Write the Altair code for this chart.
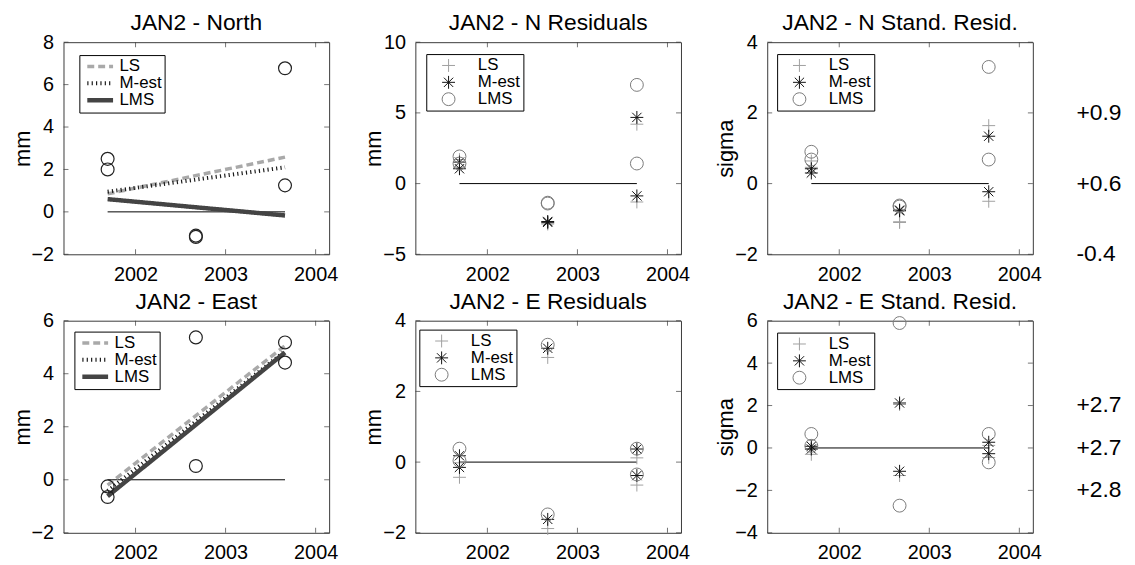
import altair as alt
import pandas as pd

FONT = "Liberation Sans"

# ---------------- data ----------------
methods = ["LS", "M-est", "LMS"]
t_obs = [2001.69, 2001.69, 2002.67, 2002.67, 2003.66, 2003.66]
t_fit = [2001.69, 2003.66]
x_domain = [2001.2, 2004.15]
x_ticks = [2002, 2003, 2004]

north_obs = [2.5, 2.0, -1.12, -1.18, 6.77, 1.25]
north_ls = [0.85, 2.58]
north_mest = [0.95, 2.1]
north_lms = [0.6, -0.17]

east_obs = [-0.25, -0.65, 5.37, 0.52, 5.18, 4.42]
east_ls = [-0.2, 5.06]
east_mest = [-0.42, 4.85]
east_lms = [-0.62, 4.8]

n_res_ls = [1.7, 1.15, -2.8, -2.86, 4.2, -1.3]
n_res_mest = [1.52, 1.05, -2.68, -2.74, 4.68, -0.87]
n_res_lms = [1.92, 1.42, -1.35, -1.41, 6.98, 1.42]

n_std_ls = [0.64, 0.46, -1.08, -1.1, 1.64, -0.5]
n_std_mest = [0.42, 0.3, -0.75, -0.77, 1.34, -0.23]
n_std_lms = [0.9, 0.68, -0.62, -0.65, 3.3, 0.68]

e_res_ls = [-0.02, -0.43, 2.96, -1.88, 0.12, -0.65]
e_res_mest = [0.18, -0.15, 3.22, -1.62, 0.37, -0.38]
e_res_lms = [0.38, 0.04, 3.32, -1.48, 0.38, -0.35]

e_std_ls = [-0.05, -0.3, 2.05, -1.3, 0.12, -0.45]
e_std_mest = [0.08, -0.05, 2.12, -1.1, 0.27, -0.27]
e_std_lms = [0.66, 0.1, 5.89, -2.72, 0.66, -0.68]

n_annot = ["+0.9", "+0.6", "-0.4"]
e_annot = ["+2.7", "+2.7", "+2.8"]
annot_pos = [2, 0, -2]

# ---------------- style ----------------
W, H = 268, 214
LINE_SYM = "M-1,0H4.2"
PLUS = "M-1,0H1M0,-1V1"
STAR = "M-1,0H1M0,-1V1M-0.72,-0.72L0.72,0.72M-0.72,0.72L0.72,-0.72"
FRAME = "#3a3a3a"


def xe():
    return alt.X("t:Q", scale=alt.Scale(domain=x_domain, nice=False, zero=False),
                 axis=alt.Axis(values=x_ticks, format="d", title=None))


def ye(ydom, yticks, ytitle):
    return alt.Y("v:Q", scale=alt.Scale(domain=ydom, nice=False, zero=False),
                 axis=alt.Axis(values=yticks, format="d", title=ytitle))


def frame_layers(ydom, yticks, ytitle):
    X, Y = xe(), ye(ydom, yticks, ytitle)
    zero = alt.Chart(pd.DataFrame({"t": t_fit, "v": [0, 0]})).mark_line(
        color="black", strokeWidth=1).encode(x=X, y=Y)
    bt = alt.Chart(pd.DataFrame({"t": x_ticks, "v": [ydom[0]] * len(x_ticks)})).mark_tick(
        orient="vertical", size=5, thickness=1, color=FRAME, yOffset=-2.5).encode(x=X, y=Y)
    tt = alt.Chart(pd.DataFrame({"t": x_ticks, "v": [ydom[1]] * len(x_ticks)})).mark_tick(
        orient="vertical", size=5, thickness=1, color=FRAME, yOffset=2.5).encode(x=X, y=Y)
    lt = alt.Chart(pd.DataFrame({"t": [x_domain[0]] * len(yticks), "v": yticks})).mark_tick(
        orient="horizontal", size=5, thickness=1, color=FRAME, xOffset=2.5).encode(x=X, y=Y)
    rt = alt.Chart(pd.DataFrame({"t": [x_domain[1]] * len(yticks), "v": yticks})).mark_tick(
        orient="horizontal", size=5, thickness=1, color=FRAME, xOffset=-2.5).encode(x=X, y=Y)
    return [bt, tt, lt, rt, zero]


def legend(lx, ly, lines):
    common = dict(title=None, orient="none", legendX=lx, legendY=ly,
                  strokeColor="black", fillColor="white", padding=3,
                  labelFont=FONT, labelFontSize=17, labelColor="black",
                  rowPadding=-2.5)
    if lines:
        return alt.Legend(symbolType=LINE_SYM, symbolSize=100, symbolOffset=1.5,
                          labelOffset=19, **common)
    return alt.Legend(symbolSize=169, symbolStrokeWidth=1, symbolOffset=11,
                      labelOffset=21, **common)


def fit_panel(title, obs, ls, mest, lms, ydom, yticks, lx, ly):
    X, Y = xe(), ye(ydom, yticks, "mm")
    leg = legend(lx, ly, True)
    ldf = pd.DataFrame({"t": t_fit * 3, "v": ls + mest + lms,
                        "m": ["LS"] * 2 + ["M-est"] * 2 + ["LMS"] * 2})
    lines = alt.Chart(ldf).mark_line().encode(
        x=X, y=Y,
        color=alt.Color("m:N", scale=alt.Scale(domain=methods,
                        range=["#a9a9a9", "#1a1a1a", "#444444"]), legend=leg),
        strokeDash=alt.StrokeDash("m:N", scale=alt.Scale(domain=methods,
                                  range=[[7, 4], [1.2, 3.2], [1, 0]]), legend=leg),
        strokeWidth=alt.StrokeWidth("m:N", scale=alt.Scale(domain=methods,
                                    range=[3.5, 4.5]), legend=leg),
    )
    odf = pd.DataFrame({"t": t_obs, "v": obs})
    pts = alt.Chart(odf).mark_point(shape="circle", filled=False, size=169,
                                    color="#222", strokeWidth=1.2, opacity=1).encode(x=X, y=Y)
    layers = frame_layers(ydom, yticks, "mm") + [lines, pts]
    return alt.layer(*layers).properties(
        width=W, height=H, title=alt.TitleParams(title, frame="group"))


def res_panel(title, ls, mest, lms, ydom, yticks, ytitle, lx, ly, annot=None):
    X, Y = xe(), ye(ydom, yticks, ytitle)
    leg = legend(lx, ly, False)
    df = pd.DataFrame({"t": t_obs * 3, "v": ls + mest + lms,
                       "m": ["LS"] * 6 + ["M-est"] * 6 + ["LMS"] * 6})
    pts = alt.Chart(df).mark_point(filled=False, size=169, strokeWidth=1, opacity=1).encode(
        x=X, y=Y,
        shape=alt.Shape("m:N", scale=alt.Scale(domain=methods, range=[PLUS, STAR, "circle"]),
                        legend=leg),
        color=alt.Color("m:N", scale=alt.Scale(domain=methods,
                        range=["#a0a0a0", "#111111", "#7a7a7a"]), legend=leg),
    )
    layers = frame_layers(ydom, yticks, ytitle) + [pts]
    if annot is not None:
        adf = pd.DataFrame({"v": annot_pos, "label": annot})
        txt = alt.Chart(adf).mark_text(align="left", baseline="middle", font=FONT,
                                       fontSize=23, color="black").encode(
            y=Y, x=alt.value(W + 44), text="label:N")
        layers.append(txt)
    return alt.layer(*layers).properties(
        width=W, height=H, title=alt.TitleParams(title, frame="group"))


p1 = fit_panel("JAN2 - North", north_obs, north_ls, north_mest, north_lms,
               [-2, 8], [-2, 0, 2, 4, 6, 8], 16, 13)
p2 = res_panel("JAN2 - N Residuals", n_res_ls, n_res_mest, n_res_lms,
               [-5, 10], [-5, 0, 5, 10], "mm", 11, 12)
p3 = res_panel("JAN2 - N Stand. Resid.", n_std_ls, n_std_mest, n_std_lms,
               [-2, 4], [-2, 0, 2, 4], "sigma", 10, 12, n_annot)
p4 = fit_panel("JAN2 - East", east_obs, east_ls, east_mest, east_lms,
               [-2, 6], [-2, 0, 2, 4, 6], 11, 11)
p5 = res_panel("JAN2 - E Residuals", e_res_ls, e_res_mest, e_res_lms,
               [-2, 4], [-2, 0, 2, 4], "mm", 4, 9)
p6 = res_panel("JAN2 - E Stand. Resid.", e_std_ls, e_std_mest, e_std_lms,
               [-4, 6], [-4, -2, 0, 2, 4, 6], "sigma", 10, 12, e_annot)

chart = alt.concat(p1, p2, p3, p4, p5, p6, columns=3,
                   spacing={"row": 67, "column": 87}, bounds="flush").resolve_scale(
    color="independent", shape="independent", strokeDash="independent",
    strokeWidth="independent", x="independent", y="independent"
).properties(
    padding={"left": 2, "top": 1, "right": 5, "bottom": 0},
    background="white",
).configure(font=FONT).configure_view(
    stroke=FRAME, strokeWidth=1
).configure_axis(
    labelFont=FONT, titleFont=FONT, labelFontSize=20, titleFontSize=22,
    titleFontWeight="normal", labelColor="black", titleColor="black",
    grid=False, domain=False, ticks=False
).configure_axisX(labelPadding=10).configure_axisY(
    labelPadding=10, titlePadding=-3
).configure_title(font=FONT, fontSize=23, fontWeight="normal", offset=-3, color="black")

chart.save("out.html", embed_options={"renderer": "svg", "actions": False})
